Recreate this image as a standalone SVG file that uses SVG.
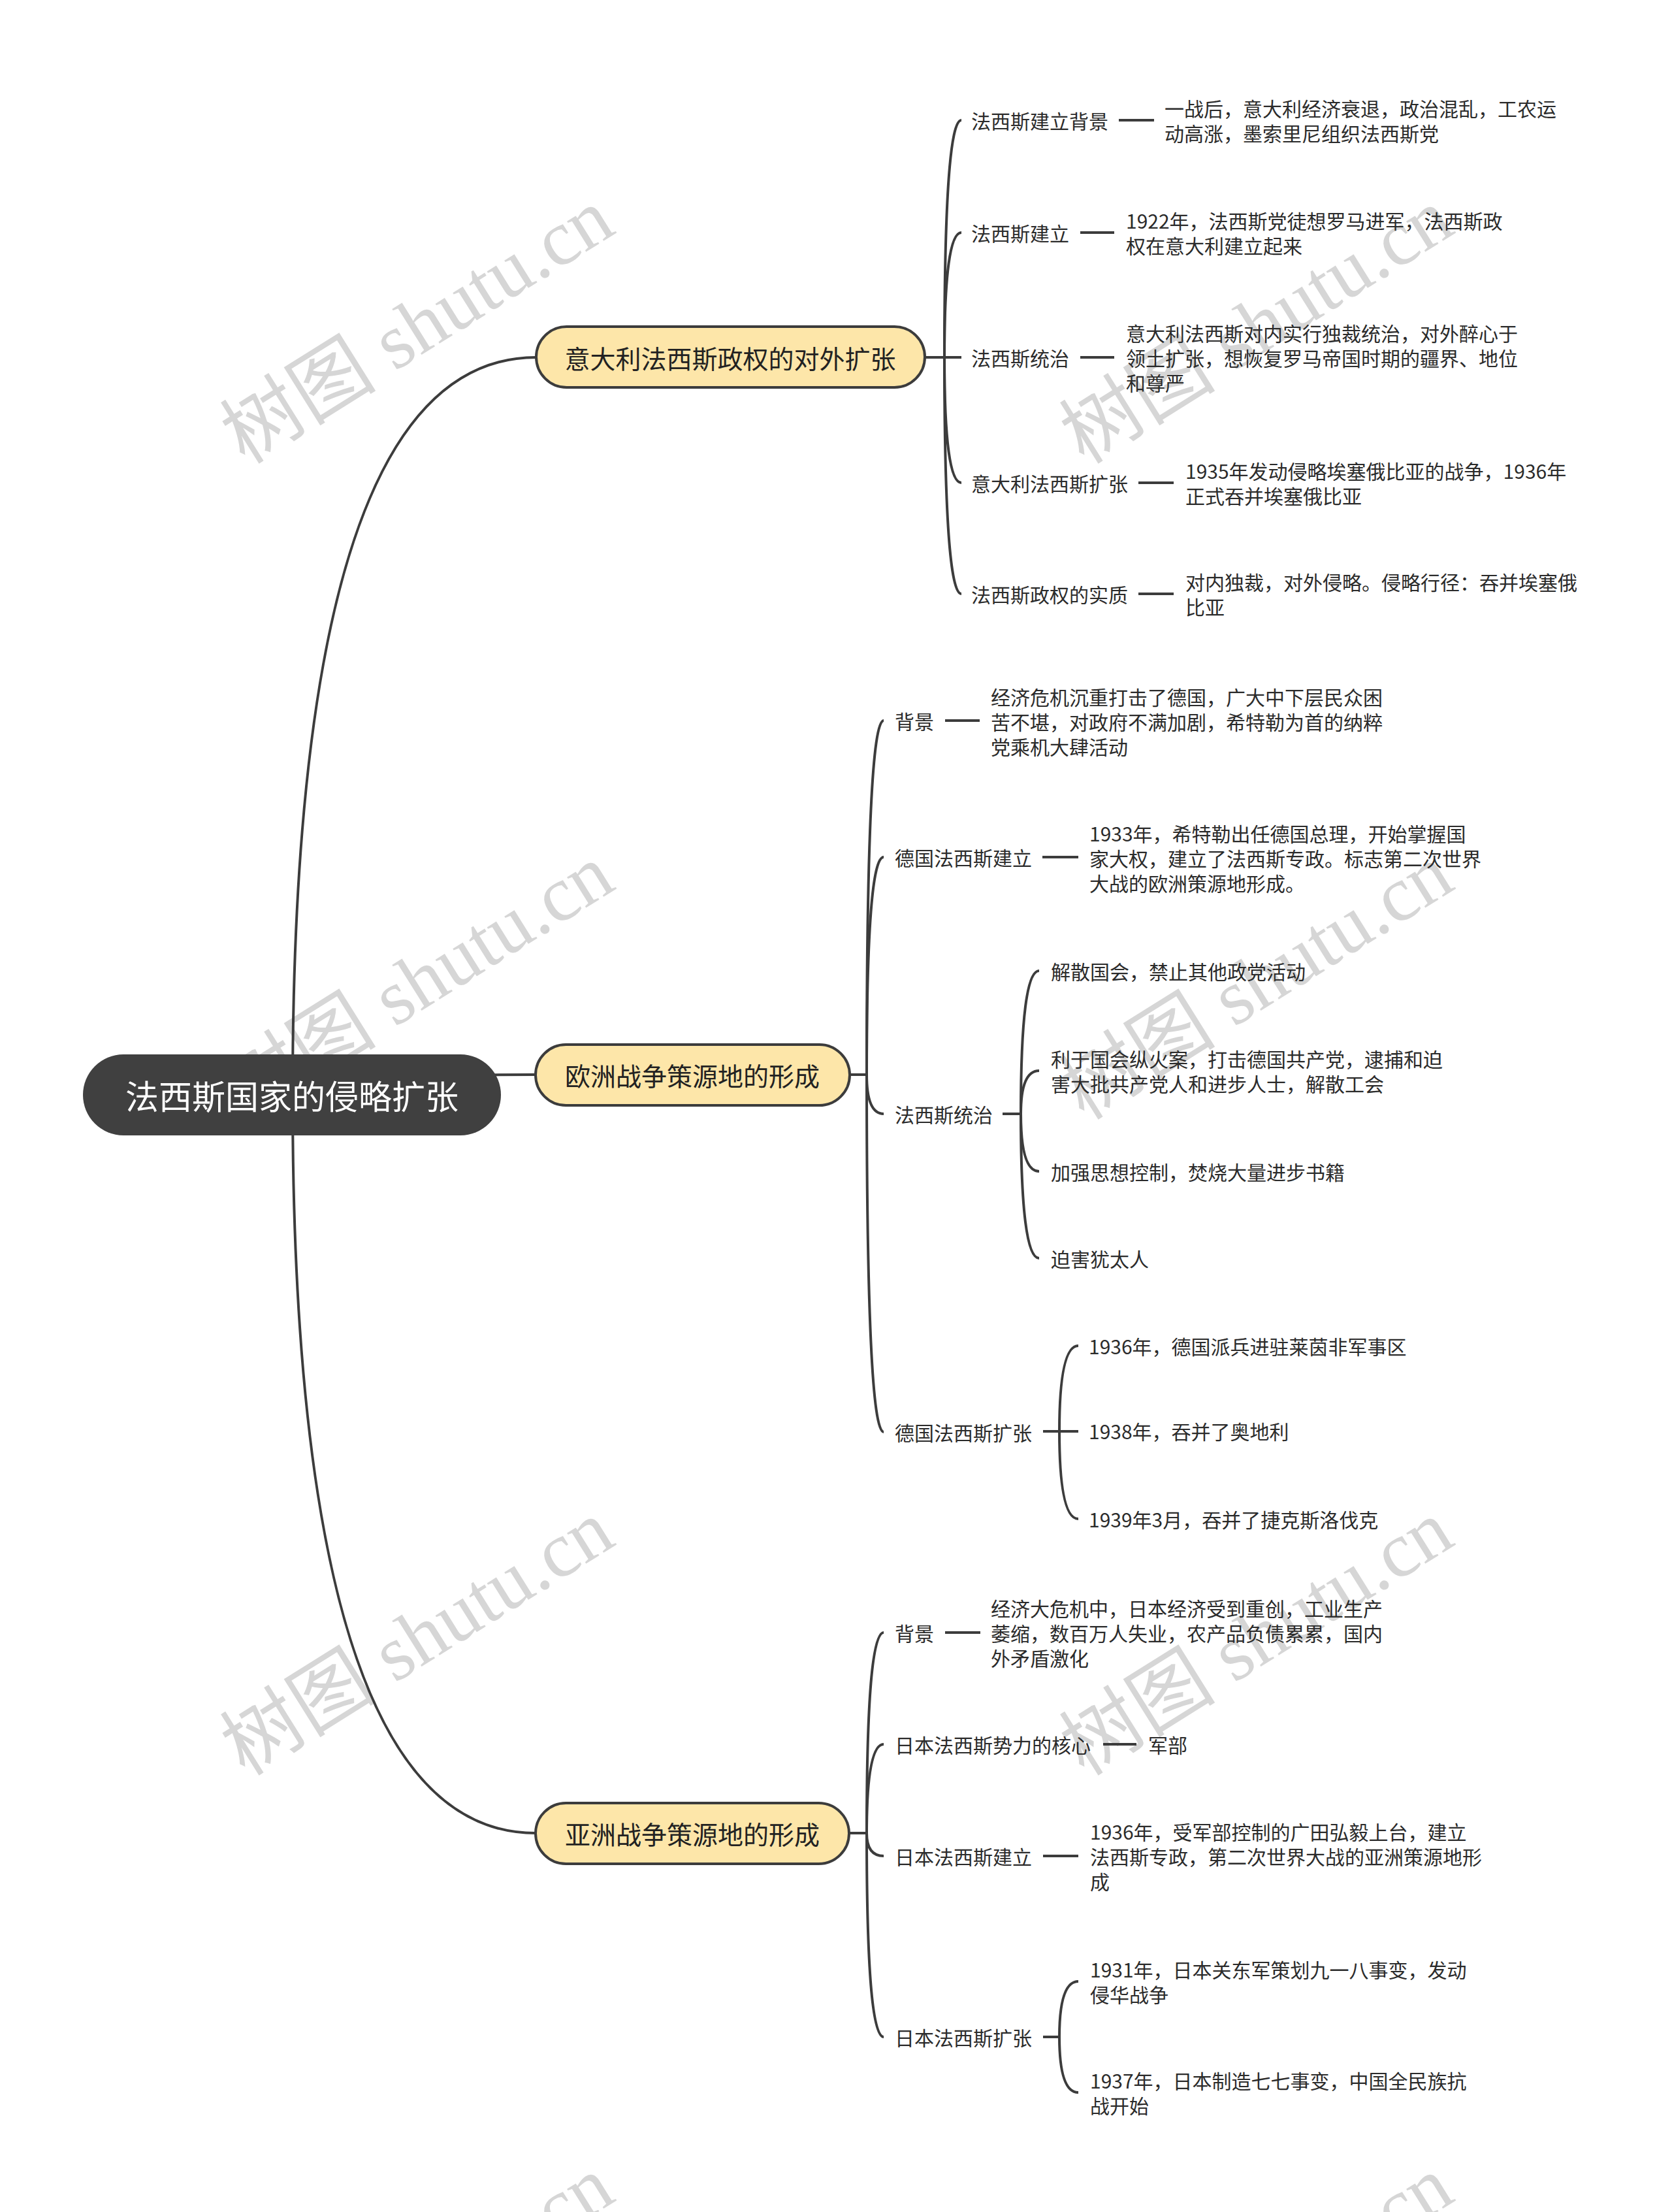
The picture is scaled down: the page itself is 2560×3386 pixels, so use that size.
<svg xmlns="http://www.w3.org/2000/svg" width="2560" height="3386" viewBox="0 0 2560 3386">
<style>
.wm{font-family:"Liberation Serif","Noto Sans CJK SC",serif;font-size:120px;fill:#d6d6d6}
.t{font-family:"Noto Sans CJK SC","Noto Sans",sans-serif;font-size:30px;fill:#2b2b2b;dominant-baseline:central}
.l1{font-family:"Noto Sans CJK SC",sans-serif;font-size:39px;fill:#222;text-anchor:middle;dominant-baseline:central}
.rt{font-family:"Noto Sans CJK SC",sans-serif;font-size:51px;fill:#fff;text-anchor:middle;dominant-baseline:central}
.ln{fill:none;stroke:#3c3c3c;stroke-width:4}
.n1{fill:#fde6a9;stroke:#3c3c3c;stroke-width:4}
</style>
<rect width="2560" height="3386" fill="#fff"/>
<g id="watermarks">
<text class="wm" transform="translate(375,712) rotate(-32)">树图 shutu.cn</text>
<text class="wm" transform="translate(1660,712) rotate(-32)">树图 shutu.cn</text>
<text class="wm" transform="translate(375,1716) rotate(-32)">树图 shutu.cn</text>
<text class="wm" transform="translate(1660,1716) rotate(-32)">树图 shutu.cn</text>
<text class="wm" transform="translate(375,2720) rotate(-32)">树图 shutu.cn</text>
<text class="wm" transform="translate(1660,2720) rotate(-32)">树图 shutu.cn</text>
<text class="wm" transform="translate(375,3724) rotate(-32)">树图 shutu.cn</text>
<text class="wm" transform="translate(1660,3724) rotate(-32)">树图 shutu.cn</text>
</g>
<g id="connectors" class="ln">
<path d="M448,1676 Q448,547 821,547"/>
<path d="M448,1676 Q448,1645 820,1645"/>
<path d="M448,1676 Q448,2806 820,2806"/>
<path d="M1416,547 H1472"/>
<path d="M1446,547 Q1446,184 1472,184"/>
<path d="M1446,547 Q1446,356 1472,356"/>
<path d="M1446,547 Q1446,739 1472,739"/>
<path d="M1446,547 Q1446,909 1472,909"/>
<path d="M1713,184 H1767"/>
<path d="M1654,356 H1706"/>
<path d="M1654,547 H1706"/>
<path d="M1743,739 H1797"/>
<path d="M1743,909 H1797"/>
<path d="M1301,1645 H1327"/>
<path d="M1327,1645 Q1327,1103 1353,1103"/>
<path d="M1327,1645 Q1327,1312 1353,1312"/>
<path d="M1327,1645 Q1327,1705 1353,1705"/>
<path d="M1327,1645 Q1327,2192 1353,2192"/>
<path d="M1447,1103 H1500"/>
<path d="M1596,1312 H1651"/>
<path d="M1535,1705 H1563"/>
<path d="M1563,1705 Q1563,1486 1591,1486"/>
<path d="M1563,1705 Q1563,1639 1591,1639"/>
<path d="M1563,1705 Q1563,1793 1591,1793"/>
<path d="M1563,1705 Q1563,1926 1591,1926"/>
<path d="M1597,2191 H1651"/>
<path d="M1622,2191 Q1622,2060 1651,2060"/>
<path d="M1622,2191 Q1622,2325 1651,2325"/>
<path d="M1300,2806 H1327"/>
<path d="M1327,2806 Q1327,2499 1353,2499"/>
<path d="M1327,2806 Q1327,2670 1353,2670"/>
<path d="M1327,2806 Q1327,2841 1353,2841"/>
<path d="M1327,2806 Q1327,3118 1353,3118"/>
<path d="M1447,2499 H1501"/>
<path d="M1689,2670 H1740"/>
<path d="M1597,2841 H1651"/>
<path d="M1597,3118 H1622"/>
<path d="M1622,3118 Q1622,3033 1651,3033"/>
<path d="M1622,3118 Q1622,3203 1651,3203"/>
</g>
<g id="root">
<rect x="127" y="1614" width="640" height="124" rx="62" fill="#404040"/>
<text class="rt" x="447" y="1676">法西斯国家的侵略扩张</text>
</g>
<g id="italy">
<rect class="n1" x="821" y="500" width="595" height="93" rx="46.5"/>
<text class="l1" x="1118" y="547">意大利法西斯政权的对外扩张</text>
</g>
<g id="europe">
<rect class="n1" x="820" y="1599" width="481" height="93" rx="46.5"/>
<text class="l1" x="1060" y="1645">欧洲战争策源地的形成</text>
</g>
<g id="asia">
<rect class="n1" x="820" y="2760" width="480" height="93" rx="46.5"/>
<text class="l1" x="1060" y="2806">亚洲战争策源地的形成</text>
</g>
<g id="italy-children">
<g id="it1"><text class="t" x="1487" y="184">法西斯建立背景</text>
<text class="t" x="1783" y="165">一战后，意大利经济衰退，政治混乱，工农运</text>
<text class="t" x="1783" y="203">动高涨，墨索里尼组织法西斯党</text></g>
<g id="it2"><text class="t" x="1487" y="356">法西斯建立</text>
<text class="t" x="1724" y="337">1922年，法西斯党徒想罗马进军，法西斯政</text>
<text class="t" x="1724" y="375">权在意大利建立起来</text></g>
<g id="it3"><text class="t" x="1487" y="547">法西斯统治</text>
<text class="t" x="1724" y="509">意大利法西斯对内实行独裁统治，对外醉心于</text>
<text class="t" x="1724" y="547">领土扩张，想恢复罗马帝国时期的疆界、地位</text>
<text class="t" x="1724" y="585">和尊严</text></g>
<g id="it4"><text class="t" x="1487" y="739">意大利法西斯扩张</text>
<text class="t" x="1815" y="720">1935年发动侵略埃塞俄比亚的战争，1936年</text>
<text class="t" x="1815" y="758">正式吞并埃塞俄比亚</text></g>
<g id="it5"><text class="t" x="1487" y="909">法西斯政权的实质</text>
<text class="t" x="1815" y="890">对内独裁，对外侵略。侵略行径：吞并埃塞俄</text>
<text class="t" x="1815" y="928">比亚</text></g>
</g>
<g id="europe-children">
<g id="eu1"><text class="t" x="1370" y="1103">背景</text>
<text class="t" x="1517" y="1066">经济危机沉重打击了德国，广大中下层民众困</text>
<text class="t" x="1517" y="1104">苦不堪，对政府不满加剧，希特勒为首的纳粹</text>
<text class="t" x="1517" y="1142">党乘机大肆活动</text></g>
<g id="eu2"><text class="t" x="1370" y="1312">德国法西斯建立</text>
<text class="t" x="1668" y="1275">1933年，希特勒出任德国总理，开始掌握国</text>
<text class="t" x="1668" y="1313">家大权，建立了法西斯专政。标志第二次世界</text>
<text class="t" x="1668" y="1351">大战的欧洲策源地形成。</text></g>
<g id="eu3"><text class="t" x="1370" y="1705">法西斯统治</text>
<text class="t" x="1609" y="1486">解散国会，禁止其他政党活动</text>
<text class="t" x="1609" y="1620">利于国会纵火案，打击德国共产党，逮捕和迫</text>
<text class="t" x="1609" y="1658">害大批共产党人和进步人士，解散工会</text>
<text class="t" x="1609" y="1793">加强思想控制，焚烧大量进步书籍</text>
<text class="t" x="1609" y="1926">迫害犹太人</text></g>
<g id="eu4"><text class="t" x="1370" y="2192">德国法西斯扩张</text>
<text class="t" x="1667" y="2060">1936年，德国派兵进驻莱茵非军事区</text>
<text class="t" x="1667" y="2190">1938年，吞并了奥地利</text>
<text class="t" x="1667" y="2325">1939年3月，吞并了捷克斯洛伐克</text></g>
</g>
<g id="asia-children">
<g id="as1"><text class="t" x="1370" y="2499">背景</text>
<text class="t" x="1517" y="2461">经济大危机中，日本经济受到重创，工业生产</text>
<text class="t" x="1517" y="2499">萎缩，数百万人失业，农产品负债累累，国内</text>
<text class="t" x="1517" y="2537">外矛盾激化</text></g>
<g id="as2"><text class="t" x="1370" y="2670">日本法西斯势力的核心</text>
<text class="t" x="1758" y="2670">军部</text></g>
<g id="as3"><text class="t" x="1370" y="2841">日本法西斯建立</text>
<text class="t" x="1669" y="2803">1936年，受军部控制的广田弘毅上台，建立</text>
<text class="t" x="1669" y="2841">法西斯专政，第二次世界大战的亚洲策源地形</text>
<text class="t" x="1669" y="2879">成</text></g>
<g id="as4"><text class="t" x="1370" y="3118">日本法西斯扩张</text>
<text class="t" x="1669" y="3014">1931年，日本关东军策划九一八事变，发动</text>
<text class="t" x="1669" y="3052">侵华战争</text>
<text class="t" x="1669" y="3184">1937年，日本制造七七事变，中国全民族抗</text>
<text class="t" x="1669" y="3222">战开始</text></g>
</g>
</svg>
